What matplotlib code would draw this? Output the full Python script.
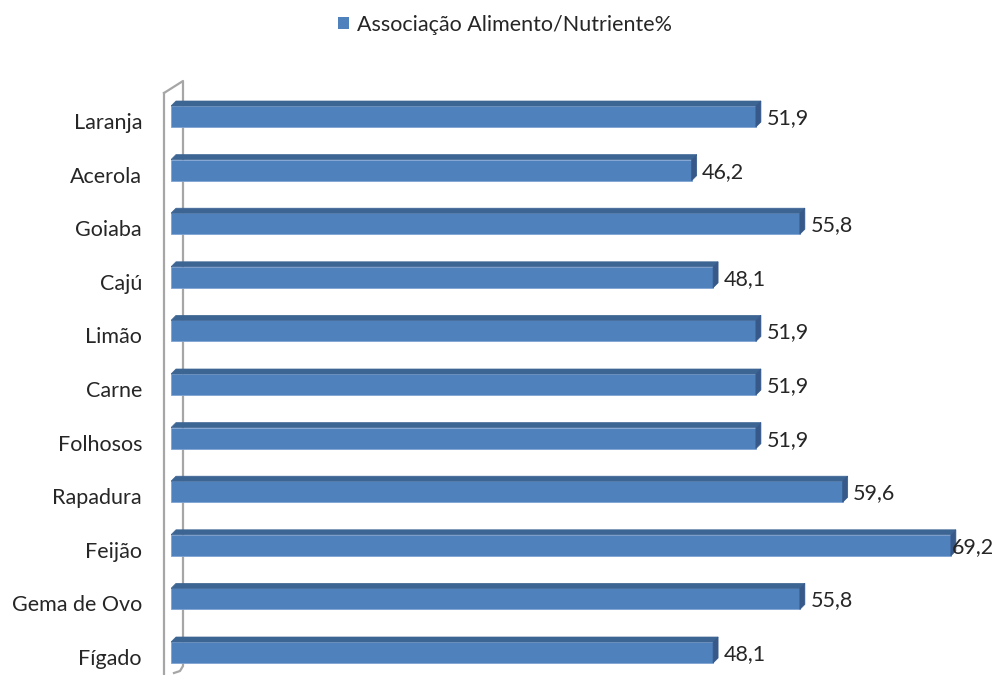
import matplotlib
matplotlib.use("Agg")
import matplotlib.pyplot as plt
from matplotlib.patches import Polygon, Patch

plt.rcParams['font.family'] = ['Lato', 'DejaVu Sans']

# data (top to bottom as in the chart)
foods = ["Laranja", "Acerola", "Goiaba", "Cajú", "Limão", "Carne",
         "Folhosos", "Rapadura", "Feijão", "Gema de Ovo", "Fígado"]
values = [51.9, 46.2, 55.8, 48.1, 51.9, 51.9, 51.9, 59.6, 69.2, 55.8, 48.1]
series_name = "Associação Alimento/Nutriente%"

front_c = "#4F81BD"
top_c = "#3D6594"
side_c = "#36598A"
wall_c = "#A6A6A6"
fs = 15.5

W, H = 1001, 675
fig = plt.figure(figsize=(W / 100, H / 100), dpi=100)
# axes from pixel x=171 to right edge, y from 80 to bottom
ax = fig.add_axes([171 / W, 0, 1 - 171 / W, 1 - 80 / H])
px_x = 11.27   # pixels per unit on x
px_y = 53.6    # pixels per category
xmax = (W - 171) / px_x
ax.set_xlim(0, xmax)
ax.set_ylim((675 - 116.5) / px_y, (80 - 116.5) / px_y)
ax.axis("off")

bar_h = 21 / px_y
dx = 5 / px_x
dy = 5 / px_y

# back wall (3d frame look)
def px(x, y):
    return ((x - 171) / px_x, (y - 116.5) / px_y)

wall = [px(164, 93), px(164, 676)]
ax.plot(*zip(*wall), color=wall_c, lw=1.6, clip_on=False, zorder=1)
back = [px(164, 93), px(183, 81), px(183, 666), px(180, 671), px(174, 673)]
ax.plot(*zip(*back), color=wall_c, lw=1.6, clip_on=False, zorder=1)

ys = list(range(len(foods)))
ax.barh(ys, values, height=bar_h, color=front_c, edgecolor="#7FA3D3",
        linewidth=0.6, zorder=3)
for y, v in zip(ys, values):
    t = y - bar_h / 2
    top = Polygon([(0, t), (v, t), (v + dx, t - dy), (dx, t - dy)],
                  closed=True, facecolor=top_c, edgecolor=top_c, lw=0.5, zorder=3)
    side = Polygon([(v, t), (v + dx, t - dy), (v + dx, t + bar_h - dy), (v, t + bar_h)],
                   closed=True, facecolor=side_c, edgecolor=side_c, lw=0.5, zorder=3)
    ax.add_patch(top)
    ax.add_patch(side)
    # labels that would run off the right edge sit over the side face, like Excel
    if v + 4.5 > xmax:
        anchor, off = v, 1
    else:
        anchor, off = v + dx, 4
    ax.annotate(f"{v:.1f}".replace(".", ","), (anchor, y + 0.03),
                xytext=(off, 0), textcoords="offset points",
                ha="left", va="center", fontsize=fs, color="#262626",
                annotation_clip=False, zorder=4)
    ax.text(-(171 - 142) / px_x, y + 0.12, foods[y], ha="right", va="center",
            fontsize=fs, color="#262626", clip_on=False)

fig.legend(handles=[Patch(facecolor=front_c, label=series_name)],
           loc="center", bbox_to_anchor=(505 / W, 1 - 25 / H), frameon=False,
           handlelength=0.5, handleheight=0.5, handletextpad=0.35,
           fontsize=fs, labelcolor="#262626")

fig.savefig("out.png", dpi=100)
